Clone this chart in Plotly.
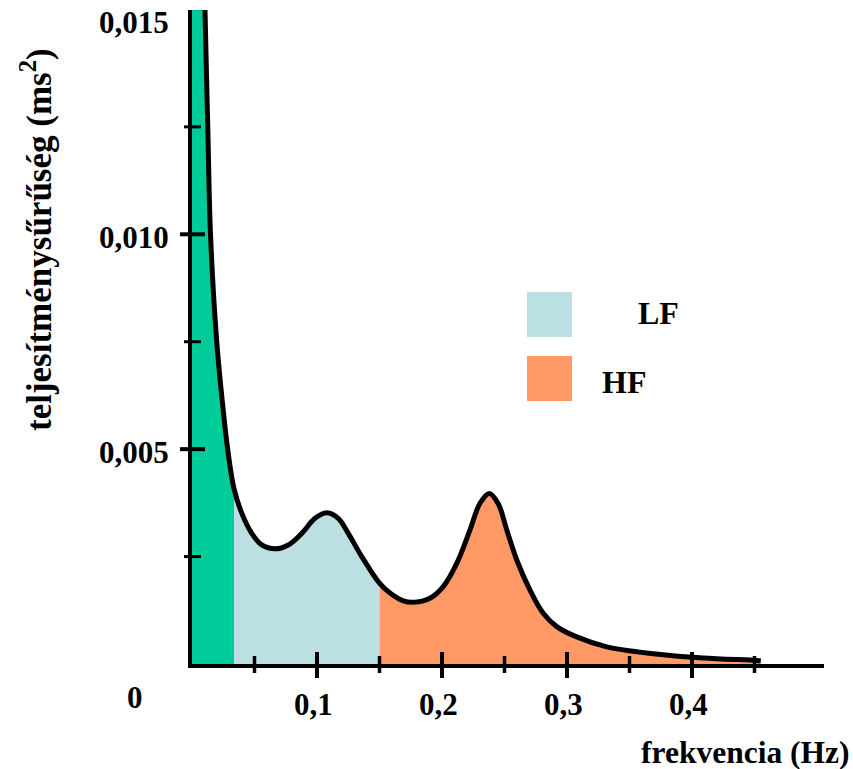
import plotly.graph_objects as go

# ---- data ----
freq = [0.0088, 0.0104, 0.0126, 0.0148, 0.0198, 0.0258, 0.0290, 0.0336, 0.0398, 0.0478,
        0.0558, 0.0664, 0.0770, 0.0878, 0.0984, 0.1078, 0.1170, 0.1250, 0.1358,
        0.1500, 0.1584, 0.1690, 0.1784, 0.1904, 0.2010, 0.2118, 0.2224, 0.2304, 0.2378,
        0.2450, 0.2518, 0.2598, 0.2704, 0.2810, 0.2918, 0.3078, 0.3318, 0.369, 0.409,
        0.452, 0.455]
psd = [0.0175, 0.0152, 0.01252, 0.0100, 0.0075, 0.00568, 0.0049, 0.00408, 0.00351, 0.00304,
       0.00277, 0.00268, 0.00277, 0.00304, 0.00339, 0.00352, 0.00339, 0.00304, 0.0025,
       0.00188, 0.00165, 0.00147, 0.00144, 0.00153, 0.0018, 0.00234, 0.00312, 0.00374, 0.00397,
       0.00373, 0.00312, 0.00242, 0.00172, 0.00118, 0.00087, 0.00063, 0.0004, 0.00024, 0.00014,
       0.00008, 0.00007]
vlf_end = 0.0336
lf_end = 0.15
band_names = ["LF", "HF"]
x_major = [0.1, 0.2, 0.3, 0.4]
x_major_labels = ["0,1", "0,2", "0,3", "0,4"]
x_minor = [0.05, 0.15, 0.25, 0.35, 0.45]
y_major = [0.005, 0.010]
y_labels_vals = [0.005, 0.010, 0.015]
y_labels = ["0,005", "0,010", "0,015"]
y_minor = [0.0025, 0.0075, 0.0125]

# ---- layout geometry ----
W, H = 853, 769
L, R, T, B = 192, 824, 10, 664
XMAX, YMAX = 0.5056, 0.01522
GREEN, LFC, HFC = "#00CC99", "#BAE0E3", "#FF9966"
FONT = "Liberation Serif"


def px_paper(px):
    return (px - L) / (R - L)


def py_paper(py):
    return (B - py) / (B - T)


fig = go.Figure()

g = [(f, p) for f, p in zip(freq, psd) if f <= vlf_end]
lf = [(f, p) for f, p in zip(freq, psd) if vlf_end <= f <= lf_end]
hf = [(f, p) for f, p in zip(freq, psd) if f >= lf_end]

fig.add_trace(go.Scatter(x=[0] + [a for a, _ in g], y=[g[0][1]] + [b for _, b in g],
                         mode="lines", line=dict(width=0, shape="spline"),
                         fill="tozeroy", fillcolor=GREEN, hoverinfo="skip"))
fig.add_trace(go.Scatter(x=[a for a, _ in lf], y=[b for _, b in lf],
                         mode="lines", line=dict(width=0, shape="spline"),
                         fill="tozeroy", fillcolor=LFC, hoverinfo="skip"))
fig.add_trace(go.Scatter(x=[a for a, _ in hf], y=[b for _, b in hf],
                         mode="lines", line=dict(width=0, shape="spline"),
                         fill="tozeroy", fillcolor=HFC, hoverinfo="skip"))
fig.add_trace(go.Scatter(x=freq, y=psd, mode="lines",
                         line=dict(color="black", width=5, shape="spline"),
                         hoverinfo="skip"))

shapes = []
# x ticks
for v in x_major:
    xp = v / XMAX
    shapes.append(dict(type="line", xref="paper", yref="paper", x0=xp, x1=xp,
                       y0=py_paper(652), y1=py_paper(678), line=dict(color="black", width=4)))
for v in x_minor:
    xp = v / XMAX
    shapes.append(dict(type="line", xref="paper", yref="paper", x0=xp, x1=xp,
                       y0=py_paper(656), y1=py_paper(673), line=dict(color="black", width=3.5)))
# y ticks
for v in y_major:
    yp = v / YMAX
    shapes.append(dict(type="line", xref="paper", yref="paper", y0=yp, y1=yp,
                       x0=px_paper(180), x1=px_paper(205), line=dict(color="black", width=4)))
for v in y_minor:
    yp = v / YMAX
    shapes.append(dict(type="line", xref="paper", yref="paper", y0=yp, y1=yp,
                       x0=px_paper(184), x1=px_paper(201), line=dict(color="black", width=3)))
# legend squares
for (top, bot), col in zip([(292, 337), (356, 401)], [LFC, HFC]):
    shapes.append(dict(type="rect", xref="paper", yref="paper",
                       x0=px_paper(527), x1=px_paper(572), y0=py_paper(bot), y1=py_paper(top),
                       fillcolor=col, line=dict(width=0)))

ann = []


def add_text(px, py, text, size, xanchor="center", angle=0):
    ann.append(dict(x=px_paper(px), y=py_paper(py), xref="paper", yref="paper",
                    text="<b>%s</b>" % text, showarrow=False,
                    font=dict(family=FONT, size=size, color="black"),
                    xanchor=xanchor, yanchor="middle", textangle=angle))


for v, t in zip(x_major, x_major_labels):
    add_text(L + v / XMAX * (R - L) - 4, 704, t, 31)
for v, t in zip(y_labels_vals, y_labels):
    add_text(171, B - v / YMAX * (B - T) + 3, t, 31, xanchor="right")
add_text(135, 697, "0", 31)
add_text(745, 753, "frekvencia (Hz)", 31.5)
add_text(36, 240, "teljesítménysűrűség (ms<sup>2</sup>)", 35, angle=-90)
add_text(658, 313, band_names[0], 32)
add_text(624, 382, band_names[1], 32)

fig.update_layout(
    width=W, height=H,
    margin=dict(l=L, r=W - R, t=T, b=H - B, pad=0),
    paper_bgcolor="white", plot_bgcolor="white",
    showlegend=False,
    shapes=shapes, annotations=ann,
    xaxis=dict(range=[0, XMAX], showgrid=False, zeroline=False, showticklabels=False,
               ticks="", showline=True, linecolor="black", linewidth=4, fixedrange=True),
    yaxis=dict(range=[0, YMAX], showgrid=False, zeroline=False, showticklabels=False,
               ticks="", showline=True, linecolor="black", linewidth=4, fixedrange=True),
)

fig.write_html("out.html")
